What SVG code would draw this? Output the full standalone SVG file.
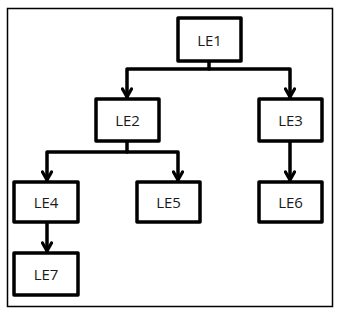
<svg xmlns="http://www.w3.org/2000/svg" width="342" height="315" viewBox="0 0 342 315">
<style>
.box{fill:#fff;stroke:#000;stroke-width:3.5;stroke-linejoin:round}
.lbl{font-family:"Open Sans","Liberation Sans",sans-serif;font-size:15px;fill:#1a1a1a;text-anchor:middle;dominant-baseline:central}
.ln{fill:none;stroke:#000;stroke-width:3.5;stroke-linejoin:round;stroke-linecap:round}
</style>
<defs>
<marker id="v" viewBox="0 0 12 12" refX="6" refY="10" markerWidth="12" markerHeight="12" markerUnits="userSpaceOnUse" orient="0">
<path d="M1.5,2 L6,10 L10.5,2" fill="none" stroke="#000" stroke-width="3.2" stroke-linecap="round" stroke-linejoin="round"/>
</marker>
</defs>
<rect x="7.5" y="8.5" width="325" height="298" fill="#fff" stroke="#000" stroke-width="1.5"/>
<g id="connectors">
<path class="ln" d="M209,61 V69"/>
<path class="ln" d="M127,97 V69 H290 V97" marker-start="url(#v)" marker-end="url(#v)"/>
<path class="ln" d="M127,141 V152"/>
<path class="ln" d="M47,180 V152 H178 V180" marker-start="url(#v)" marker-end="url(#v)"/>
<path class="ln" d="M290,141 V180" marker-end="url(#v)"/>
<path class="ln" d="M47,222 V251" marker-end="url(#v)"/>
</g>
<g id="LE1"><rect class="box" x="178" y="18" width="63" height="43"/><text class="lbl" x="209.5" y="39.5">LE1</text></g>
<g id="LE2"><rect class="box" x="96" y="99" width="63" height="42"/><text class="lbl" x="127.5" y="120">LE2</text></g>
<g id="LE3"><rect class="box" x="259" y="99" width="63" height="42"/><text class="lbl" x="290.5" y="120">LE3</text></g>
<g id="LE4"><rect class="box" x="14" y="182" width="64" height="40"/><text class="lbl" x="46" y="202">LE4</text></g>
<g id="LE5"><rect class="box" x="137" y="182" width="63" height="40"/><text class="lbl" x="168.5" y="202">LE5</text></g>
<g id="LE6"><rect class="box" x="259" y="182" width="63" height="40"/><text class="lbl" x="290.5" y="202">LE6</text></g>
<g id="LE7"><rect class="box" x="14" y="253" width="64" height="42"/><text class="lbl" x="46" y="274">LE7</text></g>
</svg>
